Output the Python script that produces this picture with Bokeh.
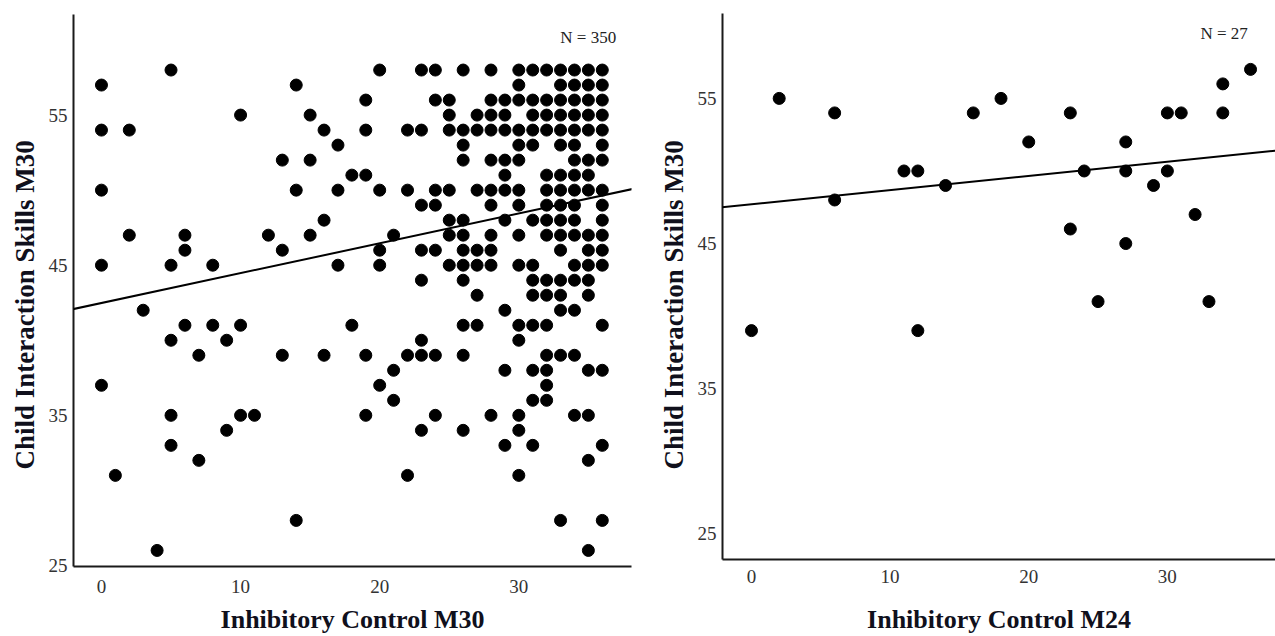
from bokeh.plotting import figure
from bokeh.layouts import row, column
from bokeh.models import Range1d, Label, Slope, FixedTicker, Title
from bokeh.embed import file_html
from bokeh.resources import INLINE

# ---------------- data ----------------
# Left panel (N = 350): Child Interaction Skills M30 vs Inhibitory Control M30
# each y level with the x values at which a dot is visible
left_y_levels = [58, 57, 56, 55, 54, 53, 52, 51, 50, 49, 48, 47, 46, 45, 44,
                 43, 42, 41, 40, 39, 38, 37, 36, 35, 34, 33, 32, 31, 28, 26]
left_x_at_level = [
    [5, 20, 23, 24, 26, 28, 30, 31, 32, 33, 34, 35, 36],
    [0, 14, 30, 33, 34, 35, 36],
    [19, 24, 25, 28, 29, 30, 31, 32, 33, 34, 35, 36],
    [10, 15, 25, 27, 28, 29, 31, 32, 33, 34, 35, 36],
    [0, 2, 16, 19, 22, 23, 25, 26, 27, 28, 29, 30, 31, 32, 33, 34, 35, 36],
    [17, 26, 30, 31, 33, 34, 36],
    [13, 15, 26, 28, 29, 30, 34, 35, 36],
    [18, 19, 29, 32, 33, 34, 35],
    [0, 14, 17, 20, 22, 24, 25, 27, 28, 29, 30, 32, 33, 34, 35, 36],
    [23, 24, 28, 30, 32, 33, 34, 36],
    [16, 25, 26, 29, 31, 32, 33, 34, 36],
    [2, 6, 12, 15, 21, 25, 26, 28, 30, 32, 33, 34, 35, 36],
    [6, 13, 20, 23, 24, 26, 27, 28, 33, 35, 36],
    [0, 5, 8, 17, 20, 25, 26, 27, 28, 30, 31, 34, 35, 36],
    [23, 26, 31, 32, 33, 34, 35],
    [27, 31, 32, 33, 35],
    [3, 29, 33, 34],
    [6, 8, 10, 18, 26, 27, 30, 31, 32, 36],
    [5, 9, 23, 30],
    [7, 13, 16, 19, 22, 23, 24, 26, 32, 33, 34],
    [21, 29, 31, 32, 35, 36],
    [0, 20, 32],
    [21, 31, 32],
    [5, 10, 11, 19, 24, 28, 30, 34, 35],
    [9, 23, 26, 30],
    [5, 29, 31, 36],
    [7, 35],
    [1, 22, 30],
    [14, 33, 36],
    [4, 35],
]
left_fit_intercept = 42.48
left_fit_slope = 0.199
left_n_text = "N = 350"

# Right panel (N = 27): Child Interaction Skills M30 vs Inhibitory Control M24
right_x = [0, 2, 6, 6, 11, 12, 12, 14, 16, 18, 20, 23, 23, 24, 25, 27, 27, 27,
           29, 30, 30, 31, 32, 33, 34, 34, 36]
right_y = [39, 55, 54, 48, 50, 50, 39, 49, 54, 55, 52, 54, 46, 50, 41, 52, 50, 45,
           49, 54, 50, 54, 47, 41, 56, 54, 57]
right_fit_intercept = 47.7
right_fit_slope = 0.0977
right_n_text = "N = 27"

x_ticks = [0, 10, 20, 30]
y_ticks = [25, 35, 45, 55]
y_title = "Child Interaction Skills M30"
left_x_title = "Inhibitory Control M30"
right_x_title = "Inhibitory Control M24"

left_x = [x for xs in left_x_at_level for x in xs]
left_y = [y for y, xs in zip(left_y_levels, left_x_at_level) for _ in xs]

SERIF = "Liberation Serif"
TITLE_COLOR = "#10101c"
TICK_COLOR = "#333333"


def style(p, xlab, x_label_standoff, x_title_standoff, y_title_offset):
    p.xgrid.grid_line_color = None
    p.ygrid.grid_line_color = None
    p.outline_line_color = None
    p.background_fill_color = "white"
    p.border_fill_color = "white"
    for ax in (p.xaxis[0], p.yaxis[0]):
        ax.axis_line_color = "#1a1a1a"
        ax.axis_line_width = 2
        ax.major_tick_line_color = None
        ax.minor_tick_line_color = None
        ax.major_label_text_font = SERIF
        ax.major_label_text_font_size = "19px"
        ax.major_label_text_color = TICK_COLOR
    p.xaxis.ticker = FixedTicker(ticks=x_ticks)
    p.yaxis.ticker = FixedTicker(ticks=y_ticks)
    p.xaxis.axis_label = xlab
    p.xaxis.axis_label_text_font = SERIF
    p.xaxis.axis_label_text_font_style = "bold"
    p.xaxis.axis_label_text_font_size = "26px"
    p.xaxis.axis_label_text_color = TITLE_COLOR
    p.xaxis.major_label_standoff = x_label_standoff
    p.xaxis.axis_label_standoff = x_title_standoff
    p.yaxis.major_label_standoff = 0
    p.add_layout(Title(text=y_title, align="left", offset=y_title_offset,
                       standoff=11, text_font=SERIF, text_font_style="bold",
                       text_font_size="27px", text_color=TITLE_COLOR), "left")


p1 = figure(width=648, height=636,
            min_border_left=73, min_border_right=17, min_border_top=14, min_border_bottom=69,
            x_range=Range1d(-2.01, 38.1), y_range=Range1d(24.93, 61.7),
            output_backend="svg", toolbar_location=None)
style(p1, left_x_title, 7, 9, 97)
p1.scatter(left_x, left_y, size=12, color="black")
p1.add_layout(Slope(gradient=left_fit_slope, y_intercept=left_fit_intercept,
                    line_color="black", line_width=2))
p1.add_layout(Label(x=37.0, y=60.2, text=left_n_text, text_align="right",
                    text_baseline="middle", text_font=SERIF, text_font_size="17px",
                    text_color="#222222"))

p2 = figure(width=627, height=636,
            min_border_left=74, min_border_right=0, min_border_top=13, min_border_bottom=76,
            x_range=Range1d(-2.09, 37.8), y_range=Range1d(23.23, 60.85),
            output_backend="svg", toolbar_location=None)
style(p2, right_x_title, 4, 19, 90)
p2.scatter(right_x, right_y, size=12, color="black")
p2.add_layout(Slope(gradient=right_fit_slope, y_intercept=right_fit_intercept,
                    line_color="black", line_width=2))
p2.add_layout(Label(x=35.8, y=59.5, text=right_n_text, text_align="right",
                    text_baseline="middle", text_font=SERIF, text_font_size="17px",
                    text_color="#222222"))

layout = row(column(p1), column(p2), spacing=0)
open("out.html", "w").write(file_html(layout, INLINE))
